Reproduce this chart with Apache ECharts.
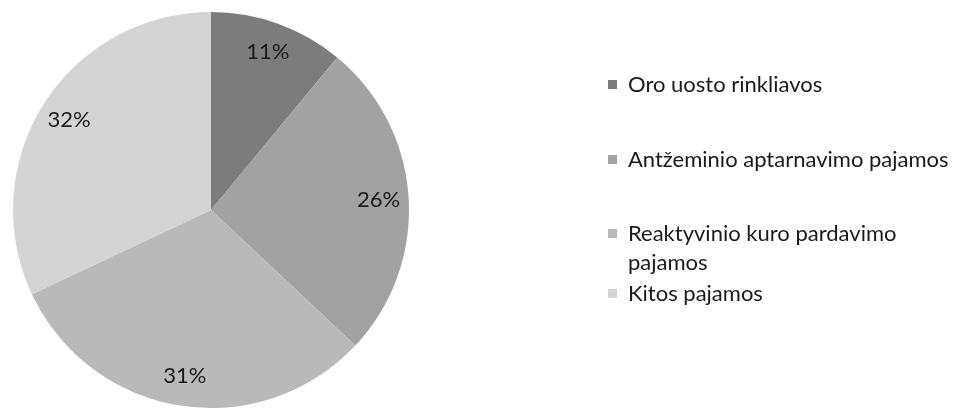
<!DOCTYPE html>
<html>
<head>
<meta charset="utf-8">
<script src="https://cdn.jsdelivr.net/npm/echarts@6/dist/echarts.min.js"></script>
<style>
  html, body { margin: 0; padding: 0; background: #fff; }
  #chart { width: 958px; height: 410px; }
</style>
</head>
<body>
<div id="chart"></div>
<script>
// pajamų struktūra, %
const categories = [
  'Oro uosto rinkliavos',
  'Antžeminio aptarnavimo pajamos',
  'Reaktyvinio kuro pardavimo pajamos',
  'Kitos pajamos'
]
const shares = [11, 26, 31, 32]
const colors = ['#7c7c7c', '#a2a2a2', '#b9b9b9', '#d4d4d4']

// legend rows sit at uneven heights in the original
const legendTops = [70, 145, 190, 279]

const font = 'Lato, "Open Sans", sans-serif'

const chart = echarts.init(document.getElementById('chart'), null, { renderer: 'canvas' })

const pieData = categories.map((name, i) => ({
  name: name,
  value: shares[i],
  itemStyle: { color: colors[i] }
}))

chart.setOption({
  animation: false,
  color: colors,
  legend: categories.map((name, i) => ({
    data: [name],
    left: 608,
    top: legendTops[i],
    padding: 0,
    orient: 'vertical',
    icon: 'rect',
    itemWidth: 9,
    itemHeight: 9,
    selectedMode: false,
    formatter: n => n === categories[2] ? '\nReaktyvinio kuro pardavimo\npajamos' : n,
    textStyle: {
      fontFamily: font,
      fontSize: 22,
      lineHeight: 29,
      color: '#1a1a1a',
      padding: [0, 0, 0, 6]
    }
  })),
  series: [
    {
      type: 'pie',
      center: [211, 210],
      radius: [0, 198],
      startAngle: 90,
      clockwise: true,
      silent: true,
      label: { show: false },
      labelLine: { show: false },
      itemStyle: { borderWidth: 0 },
      data: pieData
    },
    {
      // transparent ring just to place the % labels at ~0.83 R
      type: 'pie',
      center: [211, 210],
      radius: [132, 198],
      startAngle: 90,
      clockwise: true,
      silent: true,
      itemStyle: { color: 'rgba(0,0,0,0)', borderWidth: 0 },
      label: {
        show: true,
        position: 'inside',
        formatter: '{c}%',
        fontFamily: font,
        fontSize: 22,
        color: '#1a1a1a'
      },
      labelLine: { show: false },
      data: categories.map((name, i) => ({ name: name, value: shares[i] }))
    }
  ]
})
</script>
</body>
</html>
